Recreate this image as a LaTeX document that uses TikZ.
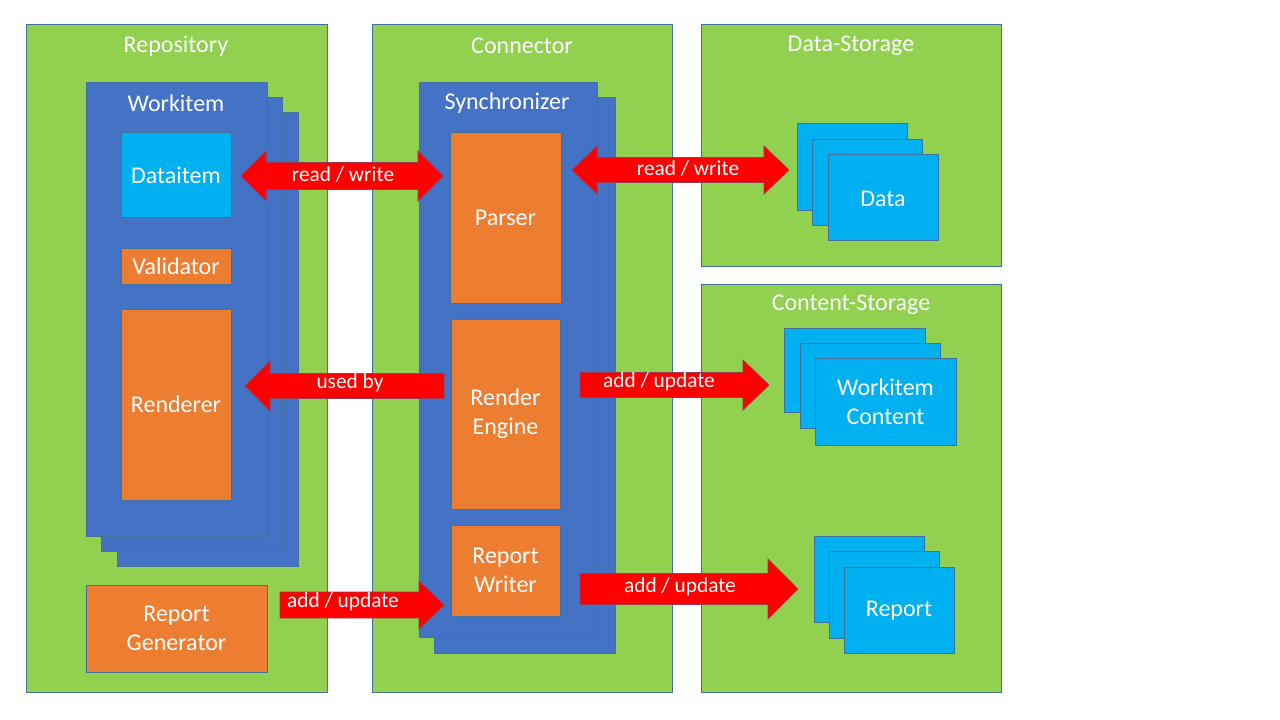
\documentclass[tikz,border=0pt]{standalone}
\usepackage{fontspec}
\setmainfont{Carlito}
\definecolor{cgreen}{HTML}{92D050}
\definecolor{cblue}{HTML}{4472C4}
\definecolor{corange}{HTML}{ED7D31}
\definecolor{clight}{HTML}{00B0F0}
\definecolor{cred}{HTML}{FF0000}
\definecolor{cline}{HTML}{41719C}
\newcommand{\boxat}[5]{\node[#1, minimum width={(#4-#2)*0.75pt}, minimum height={(#5-#3)*0.75pt}] at ({(#2+#4)/2},{(#3+#5)/2})}
\newcommand{\rblockarrow}[7]{% name, x1(tail), x2(tip), y, shaft half, head half, head length
  \fill[arrowfill] (#2,{#4-#5}) -- ({#3-#7},{#4-#5}) -- ({#3-#7},{#4-#6}) -- (#3,#4) -- ({#3-#7},{#4+#6}) -- ({#3-#7},{#4+#5}) -- (#2,{#4+#5}) -- cycle;}
\newcommand{\lblockarrow}[7]{% name, x1(tip), x2(tail), y
  \fill[arrowfill] (#3,{#4-#5}) -- ({#2+#7},{#4-#5}) -- ({#2+#7},{#4-#6}) -- (#2,#4) -- ({#2+#7},{#4+#6}) -- ({#2+#7},{#4+#5}) -- (#3,{#4+#5}) -- cycle;}
\newcommand{\dblockarrow}[6]{% x1, x2, y, shaft half, head half, head length
  \fill[arrowfill] ({#1+#6},{#3-#5}) -- ({#1+#6},{#3-#4}) -- ({#2-#6},{#3-#4}) -- ({#2-#6},{#3-#5}) -- (#2,#3) -- ({#2-#6},{#3+#5}) -- ({#2-#6},{#3+#4}) -- ({#1+#6},{#3+#4}) -- ({#1+#6},{#3+#5}) -- (#1,#3) -- cycle;}
\tikzset{
  container/.style={draw=cline, line width=0.75pt, fill=cgreen, inner sep=0pt},
  bluebox/.style={draw=cline, line width=0.75pt, fill=cblue, inner sep=0pt},
  orangebox/.style={draw=cline, line width=0.75pt, fill=corange, inner sep=0pt, text=white, font=\fontsize{18}{21.5}\selectfont, align=center},
  lightbox/.style={draw=cline, line width=0.75pt, fill=clight, inner sep=0pt, text=white, font=\fontsize{18}{21.5}\selectfont, align=center},
  title/.style={text=white, font=\fontsize{18}{21.5}\selectfont, inner sep=0pt},
  arrowfill/.style={fill=cred, draw=cline!50!red, line width=0.5pt},
  arrowlabel/.style={text=white, font=\fontsize{16}{19}\selectfont, inner sep=0pt}
}
\begin{document}
\begin{tikzpicture}[x=0.75pt, y=-0.75pt]
\useasboundingbox (0,0) rectangle (1280,720);
\fill[white] (0,0) rectangle (1280,720);
% containers
\boxat{container}{26}{25}{327}{692} (repo) {};
\boxat{container}{372}{25}{672}{692} (conn) {};
\boxat{container}{701}{25}{1001}{266} (dstore) {};
\boxat{container}{701}{284}{1001}{692} (cstore) {};
\node[title] (repoT) at (176,46) {Repository};
\node[title] (connT) at (522,46) {Connector};
\node[title] (dstoreT) at (851,46) {Data-Storage};
\node[title] (cstoreT) at (851,305) {Content-Storage};
% workitem stack
\boxat{bluebox}{117}{113}{298}{566} (wi3) {};
\boxat{bluebox}{101}{98}{282}{551} (wi2) {};
\boxat{bluebox}{86}{83}{267}{536} (wi1) {};
\node[title] (wiT) at (176,103) {Workitem};
\boxat{lightbox}{121}{133}{231}{218} (dataitem) {Dataitem};
\boxat{orangebox}{121}{248}{231}{284} (validator) {Validator};
\boxat{orangebox}{121}{309}{231}{500} (renderer) {Renderer};
\boxat{orangebox}{86}{585}{267}{672} (repgen) {Report\\Generator};
% synchronizer
\boxat{bluebox}{434}{98}{615}{653} (sync2) {};
\boxat{bluebox}{419}{83}{597}{637} (sync1) {};
\node[title] (syncT) at (507,103) {Synchronizer};
\boxat{orangebox}{450}{133}{561}{303} (parser) {Parser};
\boxat{orangebox}{451}{319}{560}{509} (rengine) {Render\\Engine};
\boxat{orangebox}{451}{525}{560}{616} (rwriter) {Report\\Writer};
% data stack
\boxat{lightbox}{797}{124}{907}{211} (data3) {};
\boxat{lightbox}{812}{140}{922}{226} (data2) {};
\boxat{lightbox}{828}{155}{938}{241} (data1) {};
\node[title] (dataT) at (883,199) {Data};
% workitem content stack
\boxat{lightbox}{784}{328}{925}{412} (wc3) {};
\boxat{lightbox}{800}{343}{940}{428} (wc2) {};
\boxat{lightbox}{815}{358}{956}{445} (wc1) {Workitem\\Content};
% report stack
\boxat{lightbox}{814}{536}{924}{622} (rep3) {};
\boxat{lightbox}{829}{551}{939}{638} (rep2) {};
\boxat{lightbox}{844}{567}{954}{653} (rep1) {};
\node[title] (repT) at (899,611) {Report};
% arrows
\dblockarrow{241}{443}{176}{13.5}{25}{25}
\node[arrowlabel] (l1) at (343,175) {read / write};
\dblockarrow{572}{789}{170}{12.5}{24}{25}
\node[arrowlabel] (l2) at (688,169) {read / write};
\lblockarrow{a3}{245}{444}{386}{12.5}{25}{25}
\node[arrowlabel] (l3) at (350,383) {used by};
\rblockarrow{a4}{580}{769}{385}{12.5}{25}{26}
\node[arrowlabel] (l4) at (659,382) {add / update};
\rblockarrow{a5}{280}{444}{605}{13}{24}{25}
\node[arrowlabel] (l5) at (343,602) {add / update};
\rblockarrow{a6}{580}{798}{589}{15.5}{30}{30}
\node[arrowlabel] (l6) at (680,587) {add / update};
\end{tikzpicture}
\end{document}
